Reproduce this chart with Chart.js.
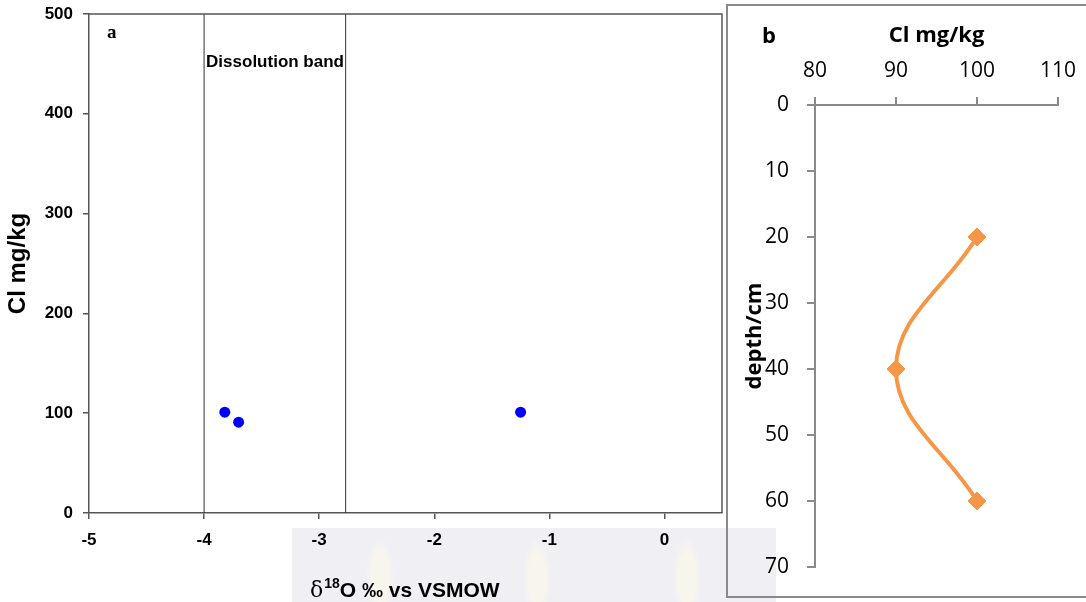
<!DOCTYPE html>
<html>
<head>
<meta charset="utf-8">
<script src="https://cdn.jsdelivr.net/npm/chart.js@4.4.1/dist/chart.umd.min.js"></script>
<style>
  html, body { margin: 0; padding: 0; background: #fff; }
  #page { position: relative; width: 1086px; height: 602px; overflow: hidden; }
  #strip {
    position: absolute; left: 292px; top: 528px; width: 484px; height: 74px;
    background:
      radial-gradient(ellipse 14px 40px at 88px 50px, #f8f6ec 55%, rgba(248,246,236,0) 100%),
      radial-gradient(ellipse 14px 40px at 245px 50px, #f8f6ec 55%, rgba(248,246,236,0) 100%),
      radial-gradient(ellipse 14px 40px at 395px 50px, #f8f6ec 55%, rgba(248,246,236,0) 100%),
      #f0f0f4;
  }
  #panelA { position: absolute; left: 0; top: 0; }
  #boxB {
    position: absolute; left: 726px; top: 4px; width: 400px; height: 590px;
    border: 2px solid #8a8a8a;
  }
  #panelB { position: absolute; left: 0; top: 0; }
</style>
</head>
<body>
<div id="page">
  <div id="strip"></div>
  <canvas id="panelA" width="726" height="602"></canvas>
  <div id="boxB"><canvas id="panelB" width="358" height="590"></canvas></div>
</div>
<script>
// panel a: d18O against chloride
const delta18O = [-3.82, -3.70, -1.25];
const chlorideA = [101, 91, 101];
const bandEdges = [-4.0, -2.77];

// panel b: chloride profile with depth
const chlorideB = [100, 90, 100];
const depthCm = [20, 40, 60];

const samplePoints = delta18O.map((x, i) => ({ x: x, y: chlorideA[i] }));
const bandLines = bandEdges.map(x => ({
  data: [{ x: x, y: 0 }, { x: x, y: 500 }],
  showLine: true,
  borderColor: '#333',
  borderWidth: 1,
  pointRadius: 0
}));

const arialBold = size => ({ family: 'Liberation Sans, Arial', size: size, weight: 'bold' });

// fixed axis box size, no extra room for overhanging tick labels
const fixSize = (w, h) => scale => {
  if (w !== null) scale.width = w;
  if (h !== null) scale.height = h;
  scale.paddingTop = scale.paddingBottom = scale.paddingLeft = scale.paddingRight = 0;
};

// box round the plot area plus the text labels of panel a
const panelAExtras = {
  id: 'panelAExtras',
  afterDraw(chart) {
    const { ctx, chartArea: a, scales } = chart;
    ctx.save();
    ctx.strokeStyle = '#555';
    ctx.lineWidth = 1.5;
    ctx.beginPath();
    ctx.moveTo(a.left, a.top);
    ctx.lineTo(a.right, a.top);
    ctx.lineTo(a.right, a.bottom);
    ctx.stroke();

    ctx.fillStyle = '#000';
    ctx.textBaseline = 'middle';
    ctx.font = 'bold 19px "Liberation Serif", serif';
    ctx.fillText('a', 107, 33);

    ctx.font = 'bold 17px "Liberation Sans", Arial';
    ctx.fillText('Dissolution band', scales.x.getPixelForValue(bandEdges[0]) + 2, 62);

    // x axis title with superscript
    ctx.textBaseline = 'alphabetic';
    let x = 310;
    const base = 597;
    ctx.font = '22px "DejaVu Serif", serif';
    ctx.fillText('δ', x, base);
    x += ctx.measureText('δ').width + 1;
    ctx.font = 'bold 14px "Liberation Sans", Arial';
    ctx.fillText('18', x, base - 9);
    x += ctx.measureText('18').width;
    ctx.font = 'bold 21px "Liberation Sans", Arial';
    ctx.fillText('O ‰ vs VSMOW', x, base);
    ctx.restore();
  }
};

new Chart(document.getElementById('panelA'), {
  type: 'scatter',
  data: {
    datasets: [
      {
        data: samplePoints,
        pointRadius: 5.5,
        pointBackgroundColor: '#0000ff',
        pointBorderColor: '#0000ff',
        pointBorderWidth: 0
      },
      ...bandLines
    ]
  },
  options: {
    responsive: false,
    animation: false,
    layout: { autoPadding: false, padding: { top: 14, right: 4, left: 0, bottom: 0 } },
    plugins: { legend: { display: false }, tooltip: { enabled: false } },
    scales: {
      x: {
        type: 'linear',
        min: -5,
        max: 0.5,
        ticks: { stepSize: 1, color: '#000', font: arialBold(17), padding: 11 },
        grid: { drawOnChartArea: false, tickLength: 6, color: '#555', lineWidth: 1.5 },
        border: { color: '#555', width: 1.5 },
        afterBuildTicks(scale) {
          scale.ticks = scale.ticks.filter(t => Number.isInteger(t.value));
        },
        afterFit: fixSize(null, 89)
      },
      y: {
        min: 0,
        max: 500,
        ticks: { stepSize: 100, color: '#000', font: arialBold(17), padding: 10 },
        grid: { drawOnChartArea: false, tickLength: 6, color: '#555', lineWidth: 1.5 },
        border: { color: '#555', width: 1.5 },
        title: { display: true, text: 'Cl mg/kg', color: '#000', font: arialBold(24), padding: { top: 4, bottom: 0 } },
        afterFit: fixSize(89, null)
      }
    }
  },
  plugins: [panelAExtras]
});

const openSans = (size, weight) => ({ family: 'Open Sans', size: size, weight: weight || 'normal' });

const panelBLabel = {
  id: 'panelBLabel',
  afterDraw(chart) {
    const ctx = chart.ctx;
    ctx.save();
    ctx.fillStyle = '#000';
    ctx.textBaseline = 'middle';
    ctx.font = 'bold 22px "Open Sans"';
    ctx.fillText('b', 34, 31);
    ctx.restore();
  }
};

new Chart(document.getElementById('panelB'), {
  type: 'scatter',
  data: {
    datasets: [{
      data: chlorideB.map((x, i) => ({ x: x, y: depthCm[i] })),
      showLine: true,
      tension: 0.4,
      borderColor: '#f79646',
      borderWidth: 4,
      pointStyle: 'rectRot',
      pointRadius: 9,
      pointBackgroundColor: '#f79646',
      pointBorderColor: '#f79646',
      pointBorderWidth: 1
    }]
  },
  options: {
    responsive: false,
    animation: false,
    layout: { autoPadding: false, padding: { top: 0, right: 28, left: 0, bottom: 29 } },
    plugins: { legend: { display: false }, tooltip: { enabled: false } },
    scales: {
      x: {
        type: 'linear',
        position: 'top',
        min: 80,
        max: 110,
        ticks: { stepSize: 10, color: '#000', font: openSans(21), padding: 13 },
        grid: { drawOnChartArea: false, tickLength: 8, color: '#8a8a8a', lineWidth: 2 },
        border: { color: '#8a8a8a', width: 2 },
        title: { display: true, text: 'Cl mg/kg', color: '#000', font: openSans(22, 'bold'), padding: { top: 17, bottom: 0 } },
        afterFit: fixSize(null, 99)
      },
      y: {
        reverse: true,
        min: 0,
        max: 70,
        ticks: { stepSize: 10, color: '#000', font: openSans(21), padding: 18 },
        grid: { drawOnChartArea: false, tickLength: 8, color: '#8a8a8a', lineWidth: 2 },
        border: { color: '#8a8a8a', width: 2 },
        title: { display: true, text: 'depth/cm', color: '#000', font: openSans(22, 'bold'), padding: { top: 14, bottom: 0 } },
        afterFit: fixSize(87, null)
      }
    }
  },
  plugins: [panelBLabel]
});
</script>
</body>
</html>
